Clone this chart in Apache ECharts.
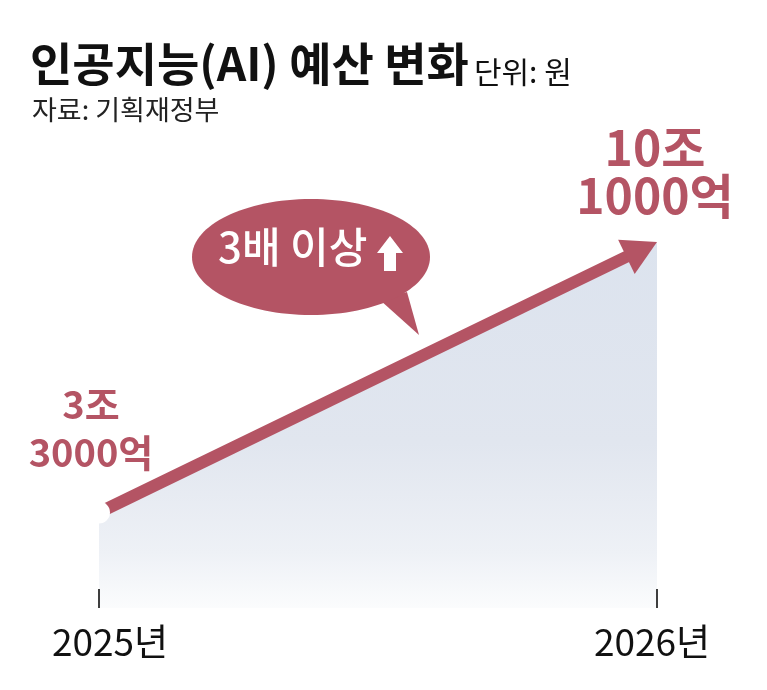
<!DOCTYPE html>
<html>
<head>
<meta charset="utf-8">
<script src="https://cdn.jsdelivr.net/npm/echarts@6/dist/echarts.min.js"></script>
<style>
html,body{margin:0;padding:0;background:#fff;}
#chart{width:767px;height:690px;}
</style>
</head>
<body>
<div id="chart"></div>
<script>
// ---- data ----
const categories = ['2025년', '2026년'];
const budget = [3.3, 10.1];            // 조원
const valueLabelTop = ['3조', '10조'];
const valueLabelBottom = ['3000억', '1000억'];
const titleText = '인공지능(AI) 예산 변화';
const unitText = '단위: 원';
const sourceText = '자료: 기획재정부';
const bubbleText = '3배 이상';

const RED = '#b45464';
const FONT = '"Noto Sans CJK KR", "Liberation Sans", sans-serif';

const chart = echarts.init(document.getElementById('chart'), null, {renderer: 'canvas'});

const option = {
  backgroundColor: '#ffffff',
  animation: false,
  title: [
    {
      left: 25, top: 27,
      text: '{a|' + titleText + '} {b|' + unitText + '}',
      textStyle: {
        rich: {
          a: {fontFamily: FONT, fontSize: 46, fontWeight: 'bold', color: '#111', verticalAlign: 'bottom', lineHeight: 55},
          b: {fontFamily: FONT, fontSize: 30, fontWeight: 'normal', color: '#111', verticalAlign: 'bottom', lineHeight: 47}
        }
      }
    },
    {
      left: 27, top: 91,
      text: sourceText,
      textStyle: {fontFamily: FONT, fontSize: 27, fontWeight: 'normal', color: '#222'}
    }
  ],
  grid: {left: 99, right: 110, top: 242, bottom: 82, containLabel: false},
  xAxis: {
    type: 'category',
    data: categories,
    boundaryGap: false,
    z: 10,
    axisLine: {show: false},
    axisTick: {show: true, inside: true, length: 19, lineStyle: {color: '#000', width: 1.5}},
    axisLabel: {
      margin: 15,
      formatter: function (v, i) { return i === 0 ? '{l|' + v + '}' : '{r|' + v + '}'; },
      rich: {
        l: {fontFamily: FONT, fontSize: 37, color: '#111', padding: [0, 0, 0, 22]},
        r: {fontFamily: FONT, fontSize: 37, color: '#111', padding: [0, 10, 0, 0]}
      }
    },
    splitLine: {show: false}
  },
  yAxis: {
    type: 'value',
    min: 0.9,
    max: 10.1,
    show: false
  },
  graphic: [
    {
      type: 'polygon',
      shape: {points: [[380, 300], [407, 292], [419, 335]]},
      style: {fill: RED},
      z: 100
    },
    {
      type: 'ellipse',
      shape: {cx: 311, cy: 257, rx: 119, ry: 58},
      style: {fill: RED},
      z: 100
    },
    {
      type: 'text',
      left: 218, top: 226,
      style: {text: bubbleText, fontFamily: FONT, fontSize: 42, fontWeight: 500, fill: '#ffffff'},
      z: 101
    },
    {
      type: 'polygon',
      shape: {points: [[390, 236], [403, 253], [396, 253], [396, 271], [384, 271], [384, 253], [377, 253]]},
      style: {fill: '#ffffff'},
      z: 101
    }
  ],
  series: [
    {
      type: 'line',
      data: budget,
      symbol: 'none',
      lineStyle: {width: 0, opacity: 0},
      areaStyle: {
        color: {
          type: 'linear', x: 0, y: 0, x2: 0, y2: 1,
          colorStops: [
            {offset: 0, color: '#dce3ee'},
            {offset: 0.55, color: '#e1e6ef'},
            {offset: 0.85, color: '#eef1f6'},
            {offset: 1, color: '#fbfcfd'}
          ]
        },
        opacity: 1
      },
      z: 1
    },
    {
      type: 'custom',
      data: [[0, budget[0], 1, budget[1]]],
      z: 5,
      renderItem: function (params, api) {
        const p0 = api.coord([api.value(0), api.value(1)]);
        const p1 = api.coord([api.value(2), api.value(3)]);
        const dx = p1[0] - p0[0], dy = p1[1] - p0[1];
        const len = Math.sqrt(dx * dx + dy * dy);
        const ux = dx / len, uy = dy / len;
        const nx = -uy, ny = ux;
        const L = 34, W = 19;
        const bx = p1[0] - ux * L, by = p1[1] - uy * L;
        return {
          type: 'group',
          children: [
            {
              type: 'line',
              shape: {x1: p0[0], y1: p0[1], x2: bx + ux * 2, y2: by + uy * 2},
              style: {stroke: RED, lineWidth: 12}
            },
            {
              type: 'polygon',
              shape: {points: [[p1[0], p1[1]], [bx + nx * W, by + ny * W], [bx - nx * W, by - ny * W]]},
              style: {fill: RED}
            },
            {
              type: 'circle',
              shape: {cx: p0[0], cy: p0[1], r: 11},
              style: {fill: '#ffffff'}
            },
            {
              type: 'text',
              x: p0[0] - 8, y: p0[1] - 108,
              style: {text: valueLabelTop[0], fontFamily: FONT, fontSize: 38, fontWeight: 'bold', fill: RED, align: 'center', verticalAlign: 'middle'}
            },
            {
              type: 'text',
              x: p0[0] - 8, y: p0[1] - 60,
              style: {text: valueLabelBottom[0], fontFamily: FONT, fontSize: 38, fontWeight: 'bold', fill: RED, align: 'center', verticalAlign: 'middle'}
            },
            {
              type: 'text',
              x: p1[0] - 2, y: p1[1] - 94,
              style: {text: valueLabelTop[1], fontFamily: FONT, fontSize: 48, fontWeight: 'bold', fill: RED, align: 'center', verticalAlign: 'middle'}
            },
            {
              type: 'text',
              x: p1[0] - 2, y: p1[1] - 46,
              style: {text: valueLabelBottom[1], fontFamily: FONT, fontSize: 48, fontWeight: 'bold', fill: RED, align: 'center', verticalAlign: 'middle'}
            }
          ]
        };
      }
    }
  ]
};

chart.setOption(option);
</script>
</body>
</html>
